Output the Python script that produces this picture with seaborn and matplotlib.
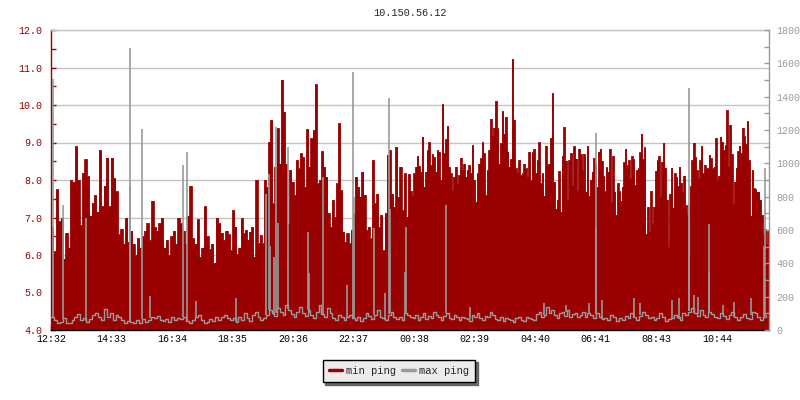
import numpy as np
import pandas as pd
import matplotlib
matplotlib.use("Agg")
import matplotlib.pyplot as plt
import seaborn as sns

title = "10.150.56.12"
tick_labels = ["12:32", "14:33", "16:34", "18:35", "20:36", "22:37",
               "00:38", "02:39", "04:40", "06:41", "08:43", "10:44"]
tick_minutes = [0, 121, 242, 363, 484, 605, 726, 847, 968, 1089, 1211, 1332]

# minutes since 12:32, four blocks of ~6 hours each
block_edges = [0, 358, 718, 1078, 1436]

min_ping_1 = [6.75, 6.1, 7.75, 6.9, 7.0, 5.9, 6.6, 6.2, 8.0, 7.95, 8.9, 8.0, 6.8, 8.2, 8.55,
              8.1, 7.05, 7.4, 7.6, 7.15, 8.8, 7.3, 7.85, 8.6, 7.3, 8.6, 8.05, 7.7, 6.55, 6.7,
              6.3, 7.0, 6.35, 6.65, 6.3, 6.0, 6.45, 6.2, 6.5, 6.65, 6.85, 6.4, 7.45, 6.75, 6.65,
              6.85, 7.0, 6.2, 6.4, 6.0, 6.5, 6.65, 6.3, 7.0, 6.85, 6.65, 6.3, 7.05, 7.85, 6.45,
              6.3, 6.95, 5.95, 6.2, 7.3, 6.5, 6.15, 6.3, 5.8, 7.0, 6.85, 6.6, 6.4, 6.65, 6.55]
min_ping_2 = [6.13, 7.2, 6.76, 6.04, 6.2, 6.98, 6.58, 6.67, 6.4, 6.62, 6.76, 5.96, 8.0, 6.31,
              6.53, 6.31, 8.0, 7.82, 9.02, 9.6, 7.38, 8.36, 9.38, 8.44, 10.68, 9.82, 8.44, 6.84,
              8.27, 7.96, 7.6, 8.53, 8.31, 8.71, 8.62, 7.82, 9.36, 8.36, 9.11, 9.33, 10.55, 7.91,
              8.0, 8.77, 8.36, 8.09, 7.11, 6.76, 7.47, 7.02, 7.91, 9.51, 7.73, 6.62, 6.36, 6.58,
              6.31, 6.67, 7.11, 8.09, 7.82, 7.56, 8.22, 7.6, 6.67, 6.76, 6.44, 8.53, 7.38, 7.64,
              6.76, 7.07, 6.13, 7.11, 8.67, 8.8, 7.64, 7.29, 8.89, 7.56, 8.36, 7.2, 8.18, 7.02, 8.16]
min_ping_3 = [7.71, 7.6, 8.18, 8.36, 8.64, 8.37, 8.22, 9.16, 7.82, 8.22, 8.8, 9.01, 8.4, 8.69,
              8.62, 8.22, 8.8, 8.76, 8.0, 10.03, 8.71, 9.09, 9.44, 8.36, 8.18, 7.73, 8.09, 8.36,
              7.91, 8.13, 8.6, 8.27, 8.44, 8.09, 8.27, 8.4, 8.18, 8.93, 8.0, 7.42, 8.18, 8.44,
              8.58, 9.01, 8.71, 7.6, 8.27, 8.8, 9.64, 9.2, 9.4, 10.11, 9.38, 8.44, 8.98, 9.84,
              9.24, 9.69, 8.76, 8.36, 8.56, 11.23, 9.6, 8.31, 8.2, 8.53, 8.13, 8.18, 8.44, 8.31,
              8.09, 8.76, 8.0, 8.74, 8.83, 8.18, 8.53, 9.02, 7.93, 8.18, 7.58, 8.92, 8.4, 8.44,
              9.13, 10.32, 7.96, 7.24, 7.47, 8.24, 7.16, 8.64, 9.42, 8.52, 7.47, 8.53, 8.71, 7.87,
              8.91, 8.57, 7.73, 8.84, 8.69, 8.27, 8.69, 7.69, 8.91, 7.58]
min_ping_4 = [8.0, 8.22, 8.6, 8.44, 7.82, 8.76, 8.84, 8.52, 8.11, 7.7, 8.34, 8.22, 8.84, 7.4,
              8.64, 7.69, 7.07, 7.91, 7.71, 7.45, 7.82, 8.47, 8.84, 8.4, 8.53, 8.04, 8.64, 8.55,
              7.87, 8.27, 8.31, 8.74, 9.24, 8.56, 8.87, 6.56, 7.29, 6.62, 7.71, 6.87, 7.29, 8.24,
              8.53, 8.64, 7.56, 8.49, 9.0, 8.33, 7.47, 6.22, 7.64, 8.33, 7.26, 8.18, 8.09, 7.84,
              8.36, 7.93, 7.69, 8.12, 7.33, 7.09, 5.97, 7.84, 8.53, 9.0, 8.62, 8.27, 8.04, 8.53,
              8.91, 8.18, 8.4, 8.31, 8.31, 8.67, 8.58, 8.31, 8.36, 9.13, 8.0, 8.12, 9.16, 9.02,
              8.8, 8.93, 9.87, 8.36, 9.48, 8.69, 7.38, 7.96, 8.33, 8.77, 8.92, 8.71, 9.4, 9.17,
              8.95, 9.57, 8.53, 7.04, 8.27, 7.78, 7.75, 7.69, 7.69, 7.47, 7.07, 6.56, 6.69, 6.31, 6.67]

max_base_1 = [80, 60, 40, 50, 70, 40, 44, 60, 80, 96, 60, 70, 50, 64, 90, 104, 76, 60, 124, 80,
              100, 60, 90, 76, 60, 40, 56, 50, 44, 60, 40, 68, 50, 60, 80, 70, 84, 60, 56, 64,
              48, 76, 60, 70, 64, 80, 54, 44, 60, 76, 90, 60, 40, 50, 64, 56, 76, 60, 80, 90, 70]
max_base_2 = [60, 70, 50, 80, 60, 100, 70, 56, 90, 110, 80, 60, 74, 90, 120, 100, 86, 130, 110,
              90, 150, 120, 96, 80, 110, 140, 100, 86, 120, 90, 70, 110, 150, 96, 80, 130, 100,
              70, 60, 90, 80, 60, 76, 90, 70, 60, 80, 56, 70, 100, 86, 64, 90, 120, 80, 70, 60,
              90, 110, 80, 64, 76, 60, 100, 90]
max_base_3 = [80, 70, 90, 60, 76, 100, 64, 84, 70, 110, 90, 76, 60, 84, 100, 70, 64, 90, 76, 60,
              80, 70, 64, 56, 90, 80, 100, 70, 60, 86, 76, 110, 90, 64, 60, 80, 56, 70, 64, 60,
              50, 70, 80, 60, 56, 76, 70, 64, 60, 96, 110, 80, 90, 140, 100, 120, 90, 70, 100,
              110, 86, 120, 80, 96, 104, 76, 90, 110, 80, 100]
max_base_4 = [90, 70, 100, 80, 64, 70, 60, 90, 76, 56, 70, 60, 84, 70, 100, 76, 60, 86, 110, 90,
              70, 80, 60, 70, 100, 80, 56, 64, 70, 90, 76, 60, 100, 90, 110, 130, 100, 86, 120,
              90, 76, 110, 96, 80, 70, 100, 86, 64, 90, 110, 76, 60, 80, 96, 70, 64, 110, 100,
              80, 60, 76, 90]

spike_minutes = [3, 23, 70, 157, 158, 182, 198, 263, 271, 289, 369, 430, 435, 437, 445, 449,
                 453, 473, 513, 516, 543, 591, 603, 605, 646, 668, 675, 677, 708, 710, 790, 838,
                 985, 1030, 1076, 1089, 1090, 1101, 1165, 1177, 1241, 1255, 1275, 1276, 1286,
                 1293, 1315, 1316, 1343, 1366, 1399, 1425, 1427]
spike_values = [1504, 750, 672, 1692, 864, 1206, 204, 990, 1068, 174, 190, 816, 936, 504, 440,
                1216, 640, 1100, 590, 342, 920, 270, 1546, 800, 612, 222, 1390, 726, 350, 618,
                750, 140, 164, 150, 160, 620, 1180, 180, 190, 160, 180, 190, 1450, 750, 210, 200,
                350, 636, 150, 170, 190, 504, 970]

RED = "#990000"
GRAY = "#9a9a9a"


def block_times(blocks):
    out = []
    for i, vals in enumerate(blocks):
        out.append(np.linspace(block_edges[i], block_edges[i + 1], len(vals), endpoint=False))
    return np.concatenate(out)


min_df = pd.DataFrame({
    "minute": block_times([min_ping_1, min_ping_2, min_ping_3, min_ping_4]),
    "ping": np.concatenate([min_ping_1, min_ping_2, min_ping_3, min_ping_4]),
})
base_df = pd.DataFrame({
    "minute": block_times([max_base_1, max_base_2, max_base_3, max_base_4]),
    "ping": np.concatenate([max_base_1, max_base_2, max_base_3, max_base_4]),
})
spike_df = pd.DataFrame({"minute": spike_minutes, "ping": spike_values})
spike_df["base"] = np.interp(spike_df["minute"], base_df["minute"], base_df["ping"])

sns.set_style("white")
plt.rcParams["font.family"] = ["Liberation Mono", "DejaVu Sans Mono"]
plt.rcParams["font.size"] = 7.2

fig = plt.figure(figsize=(8, 4), dpi=100)
ax = fig.add_axes([51 / 800, 70 / 400, 718 / 800, 300 / 400])

# min ping as filled steps
x_fill = np.append(min_df["minute"].values, block_edges[-1])
y_fill = np.append(min_df["ping"].values, min_df["ping"].values[-1])
ax.fill_between(x_fill, 4.0, y_fill, step="post", color=RED, lw=0, zorder=2)
sns.lineplot(data=min_df, x="minute", y="ping", ax=ax, color=RED, lw=0.6,
             drawstyle="steps-post", zorder=2, legend=False)

ax.set_xlim(block_edges[0], block_edges[-1])
ax.set_ylim(4.0, 12.0)
ax.set_yticks(np.arange(4.0, 12.01, 1.0))
ax.set_yticks(np.arange(4.0, 12.01, 0.5), minor=True)
ax.set_yticklabels([f"{v:.1f}" for v in np.arange(4.0, 12.01, 1.0)])
ax.set_xticks(tick_minutes)
ax.set_xticklabels(tick_labels)
ax.set_xlabel("")
ax.set_ylabel("")
ax.set_axisbelow(True)
ax.grid(axis="y", color="#c4c4c4", lw=1)
ax.tick_params(axis="y", which="both", direction="in", colors=RED, labelcolor=RED,
               length=3.6, width=1, pad=6, left=True, right=False)
ax.tick_params(axis="x", direction="in", colors="black", length=3.6, width=1, pad=3,
               bottom=True)
for name, sp in ax.spines.items():
    sp.set_linewidth(1)
ax.spines["left"].set_color(RED)
ax.spines["bottom"].set_color("black")
ax.spines["top"].set_color("#c4c4c4")
ax.spines["right"].set_visible(False)

# max ping on right axis: noisy baseline plus narrow spikes
ax2 = ax.twinx()
sns.lineplot(data=base_df, x="minute", y="ping", ax=ax2, color=GRAY, lw=1,
             drawstyle="steps-post", legend=False)
ax2.vlines(spike_df["minute"], spike_df["base"], spike_df["ping"], color=GRAY, lw=1.2)
ax2.set_ylim(0, 1800)
ax2.set_yticks(np.arange(0, 1801, 200))
ax2.set_yticks(np.arange(0, 1801, 100), minor=True)
ax2.set_ylabel("")
ax2.tick_params(axis="y", which="both", direction="in", colors=GRAY, labelcolor=GRAY,
                length=3.6, width=1, pad=5, right=True, left=False)
for name in ["left", "top", "bottom"]:
    ax2.spines[name].set_visible(False)
ax2.spines["right"].set_color(GRAY)
ax2.spines["right"].set_linewidth(1)

fig.text(410 / 800, 1 - 13 / 400, title, ha="center", va="center", fontsize=7.4)

handles = [plt.Line2D([], [], color=RED, lw=2.5), plt.Line2D([], [], color=GRAY, lw=2.5)]
leg = fig.legend(handles, ["min ping", "max ping"], loc="center",
                 bbox_to_anchor=(399 / 800, 1 - 371 / 400), ncol=2, frameon=True,
                 fancybox=False, shadow={"color": "#666666", "alpha": 1},
                 handlelength=1.2, handletextpad=0.4, columnspacing=0.6,
                 borderpad=0.6, fontsize=7.6)
leg.get_frame().set_facecolor("#ebebeb")
leg.get_frame().set_edgecolor("black")
leg.get_frame().set_linewidth(1)

fig.savefig("out.png", dpi=100)
